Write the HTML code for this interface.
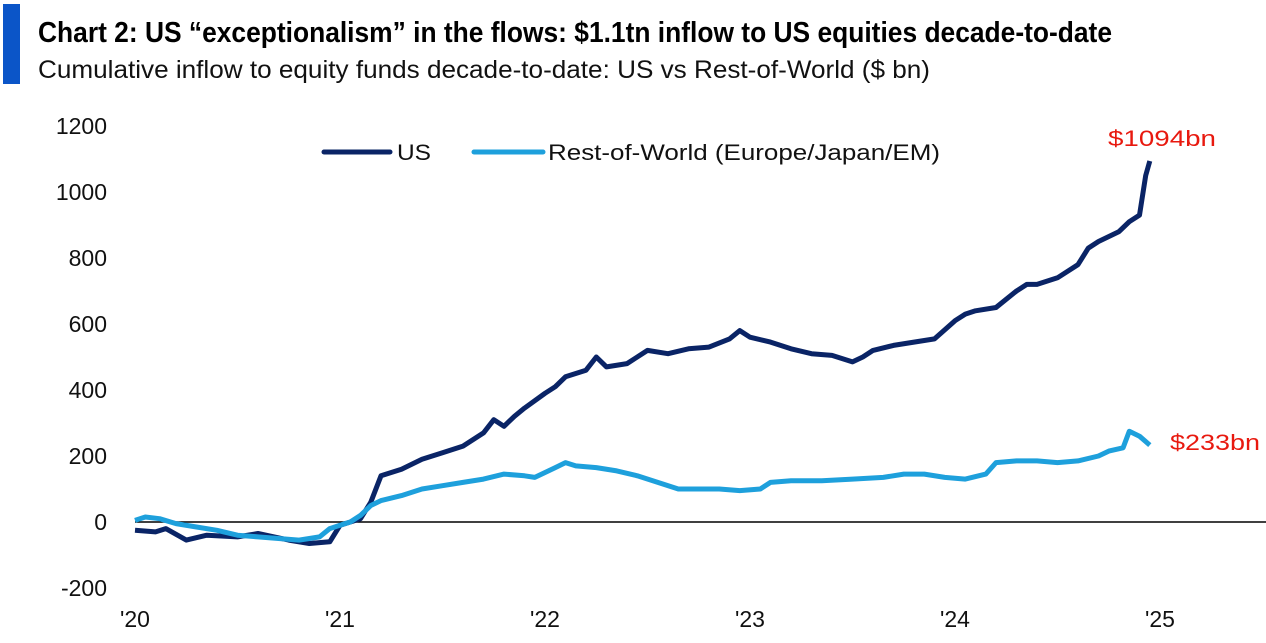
<!DOCTYPE html>
<html><head><meta charset="utf-8"><style>
body{margin:0;background:#fff;width:1266px;height:638px;overflow:hidden;font-family:"Liberation Sans",sans-serif}
</style></head><body>
<svg width="1266" height="638" id="svg">
<rect x="3" y="4" width="17" height="80" fill="#0b55c8"/>
<text x="38" y="42" font-family="'Liberation Sans Narrow','Liberation Sans',sans-serif" font-weight="bold" font-size="29" textLength="1074" lengthAdjust="spacingAndGlyphs" fill="#000">Chart 2: US “exceptionalism” in the flows: $1.1tn inflow to US equities decade-to-date</text>
<text x="38" y="78" font-family="'Liberation Sans Narrow','Liberation Sans',sans-serif" font-size="25" textLength="892" lengthAdjust="spacingAndGlyphs" fill="#111">Cumulative inflow to equity funds decade-to-date: US vs Rest-of-World ($ bn)</text>
<g id="yaxis"></g>
<g id="xaxis"></g>
<line x1="135" x2="1266" id="zero" stroke="#000" stroke-width="1.5"/>
<g id="series"></g>
<g>
<line x1="324" y1="152" x2="390" y2="152" stroke="#0a2466" stroke-width="5" stroke-linecap="round"/>
<text x="397" y="160" font-size="22" textLength="34" lengthAdjust="spacingAndGlyphs" fill="#111">US</text>
<line x1="474" y1="152" x2="543" y2="152" stroke="#1ea0dc" stroke-width="5" stroke-linecap="round"/>
<text x="548" y="160" font-size="22" textLength="392" lengthAdjust="spacingAndGlyphs" fill="#111">Rest-of-World (Europe/Japan/EM)</text>
</g>
<text x="1108" y="146" font-size="22" textLength="108" lengthAdjust="spacingAndGlyphs" fill="#e8190f">$1094bn</text>
<text x="1170" y="450" font-size="22" textLength="90" lengthAdjust="spacingAndGlyphs" fill="#e8190f">$233bn</text>
</svg>
<script>
const yTicks=[1200,1000,800,600,400,200,0,-200];
const xTickLabels=["'20","'21","'22","'23","'24","'25"];
const xTickYears=[0,1,2,3,4,5];
const usT=[0,0.1,0.15,0.25,0.35,0.5,0.6,0.75,0.85,0.95,1.0,1.05,1.1,1.15,1.2,1.3,1.4,1.5,1.6,1.7,1.75,1.8,1.85,1.9,2.0,2.05,2.1,2.2,2.25,2.3,2.4,2.5,2.6,2.7,2.8,2.9,2.95,3.0,3.1,3.2,3.3,3.4,3.5,3.55,3.6,3.7,3.8,3.85,3.9,4.0,4.05,4.1,4.2,4.3,4.35,4.4,4.5,4.6,4.65,4.7,4.8,4.85,4.9,4.93,4.95];
const usV=[-25,-30,-20,-55,-40,-45,-35,-55,-65,-60,-10,0,10,60,140,160,190,210,230,270,310,290,320,345,390,410,440,460,500,470,480,520,510,525,530,555,580,560,545,525,510,505,485,500,520,535,545,550,555,610,630,640,650,700,720,720,740,780,830,850,880,910,930,1050,1094];
const rowT=[0,0.05,0.12,0.2,0.3,0.4,0.5,0.6,0.7,0.8,0.85,0.9,0.95,1.0,1.05,1.1,1.15,1.2,1.3,1.4,1.5,1.6,1.7,1.8,1.9,1.95,2.05,2.1,2.15,2.25,2.35,2.45,2.55,2.65,2.75,2.85,2.95,3.05,3.1,3.2,3.35,3.5,3.65,3.75,3.85,3.95,4.05,4.15,4.2,4.3,4.4,4.5,4.6,4.7,4.75,4.82,4.85,4.9,4.95];
const rowV=[5,15,10,-5,-15,-25,-40,-45,-50,-55,-50,-45,-20,-10,0,20,50,65,80,100,110,120,130,145,140,135,165,180,170,165,155,140,120,100,100,100,95,100,120,125,125,130,135,145,145,135,130,145,180,185,185,180,185,200,215,225,275,260,233];
const NS="http://www.w3.org/2000/svg";
const X=t=>135+t*205, Y=v=>522-v*0.33;
const ya=document.getElementById('yaxis'), xa=document.getElementById('xaxis');
yTicks.forEach(v=>{const t=document.createElementNS(NS,'text');


t.setAttribute('x',107);t.setAttribute('y',Y(v)+8);t.setAttribute('text-anchor','end');t.setAttribute('font-size','23');t.setAttribute('fill','#111');t.textContent=v;ya.appendChild(t);});
xTickYears.forEach((y,i)=>{const t=document.createElementNS(NS,'text');


t.setAttribute('x',X(y));t.setAttribute('y',627);t.setAttribute('text-anchor','middle');t.setAttribute('font-size','23');t.setAttribute('fill','#111');t.textContent=xTickLabels[i];xa.appendChild(t);});
const z=document.getElementById('zero');z.setAttribute('y1',Y(0));z.setAttribute('y2',Y(0));
const g=document.getElementById('series');
function line(T,V,c,name){const p=document.createElementNS(NS,'path');


p.setAttribute('d',T.map((t,i)=>(i?'L':'M')+X(t).toFixed(1)+','+Y(V[i]).toFixed(1)).join(''));
p.setAttribute('fill','none');p.setAttribute('stroke',c);p.setAttribute('stroke-width','5');p.setAttribute('stroke-linejoin','round');g.appendChild(p);}
line(usT,usV,'#0a2466','us-line');
line(rowT,rowV,'#1ea0dc','row-line');
</script>
</body></html>
